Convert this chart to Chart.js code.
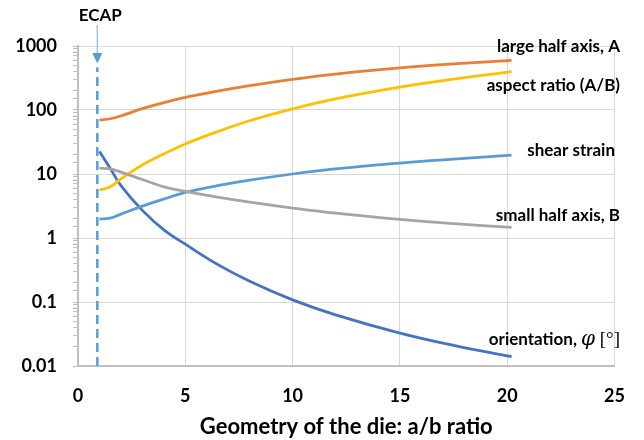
<!DOCTYPE html>
<html>
<head>
<meta charset="utf-8">
<script src="https://cdn.jsdelivr.net/npm/chart.js@4"></script>
<style>
  body { margin: 0; background: #fff; }
  #wrap { width: 644px; height: 440px; }
</style>
</head>
<body>
<div id="wrap"><canvas id="chart" width="644" height="440"></canvas></div>
<script>
// values (a/b ratio on x, log y)
const xValues = [1, 1.5, 2, 3, 4, 5, 6.5, 8, 10, 12, 15, 17.5, 20.2];
const largeHalfAxis = [70, 73, 81, 105, 130.6, 157, 197, 240, 302, 365, 455, 525, 594];
const aspectRatio = [5.6, 6.3, 8.4, 13.8, 20.6, 29.5, 46, 68, 104, 149, 227, 303, 398];
const shearStrain = [1.97, 2.04, 2.36, 3.15, 4.07, 5.15, 6.56, 8.0, 10, 12, 14.8, 17.1, 19.8];
const smallHalfAxis = [12.3, 12, 10.7, 8.2, 6.3, 5.35, 4.35, 3.63, 2.94, 2.44, 1.95, 1.67, 1.46];
const orientation = [22.4, 12.3, 6.6, 2.7, 1.34, 0.8, 0.387, 0.211, 0.108, 0.063, 0.0327, 0.021, 0.014];

const ecapX = [0.9, 0.9];
const ecapY = [0.01, 460];

const xTicks = [0, 5, 10, 15, 20, 25];
const yTickLabels = ['0.01', '0.1', '1', '10', '100', '1000'];

const FONT = 'Lato';

function pts(ys) {
    return xValues.map((x, i) => ({ x: x, y: ys[i] }));
}

function isDecade(v) {
    const l = Math.log10(v);
    return Math.abs(l - Math.round(l)) < 1e-6;
}

function line(data, color) {
    return {
        data: pts(data),
        borderColor: color,
        borderWidth: 2.75,
        pointRadius: 0,
        tension: 0.4,
        fill: false
    };
}

// right-hand series labels + ECAP arrow
const annotations = {
    id: 'annotations',
    afterDraw(chart) {
        const ctx = chart.ctx;
        const right = 620;
        ctx.save();
        ctx.fillStyle = '#000';
        ctx.textBaseline = 'alphabetic';
        ctx.textAlign = 'right';
        ctx.font = 'bold 17px ' + FONT;
        ctx.fillText('large half axis, A', right, 52);
        ctx.fillText('aspect ratio (A/B)', right, 91);
        ctx.fillText('shear strain', right - 5, 156);
        ctx.fillText('small half axis, B', right, 221);

        // orientation, φ [°] with math-style symbol
        ctx.textAlign = 'left';
        const p1 = 'orientation, ', p2 = 'φ', p3 = ' [°]';
        const f1 = 'bold 17px ' + FONT, f2 = 'italic 20px "DejaVu Serif"', f3 = '19px "Liberation Serif"';
        ctx.font = f1; const w1 = ctx.measureText(p1).width;
        ctx.font = f2; const w2 = ctx.measureText(p2).width;
        ctx.font = f3; const w3 = ctx.measureText(p3).width;
        let x = right - (w1 + w2 + w3);
        ctx.font = f1; ctx.fillText(p1, x, 345); x += w1;
        ctx.font = f2; ctx.fillText(p2, x, 345); x += w2;
        ctx.font = f3; ctx.fillText(p3, x, 345);

        // ECAP marker
        const ex = chart.scales.x.getPixelForValue(ecapX[0]);
        ctx.textAlign = 'center';
        ctx.font = 'bold 17px ' + FONT;
        ctx.fillText('ECAP', ex + 3, 21);
        ctx.strokeStyle = '#9DC3E6';
        ctx.lineWidth = 1.5;
        ctx.beginPath();
        ctx.moveTo(ex, 25);
        ctx.lineTo(ex, 54);
        ctx.stroke();
        ctx.fillStyle = '#5B9BD5';
        ctx.beginPath();
        ctx.moveTo(ex - 5, 53);
        ctx.lineTo(ex + 5, 53);
        ctx.lineTo(ex, 63.5);
        ctx.closePath();
        ctx.fill();
        ctx.restore();
    }
};

new Chart(document.getElementById('chart'), {
    type: 'line',
    data: {
        datasets: [
            {
                data: ecapX.map((x, i) => ({ x: x, y: ecapY[i] })),
                borderColor: '#5B9BD5',
                borderWidth: 2.5,
                borderDash: [9, 5],
                pointRadius: 0,
                tension: 0,
                fill: false
            },
            line(smallHalfAxis, '#A5A5A5'),
            line(shearStrain, '#5B9BD5'),
            line(aspectRatio, '#FFC000'),
            line(largeHalfAxis, '#ED7D31'),
            line(orientation, '#4472C4')
        ]
    },
    options: {
        responsive: false,
        animation: false,
        layout: { padding: { left: 0, right: 20, top: 46, bottom: 0 } },
        plugins: { legend: { display: false }, tooltip: { enabled: false } },
        scales: {
            x: {
                type: 'linear',
                min: 0,
                max: 25,
                afterBuildTicks: s => { s.ticks = xTicks.map(v => ({ value: v })); },
                afterFit: s => { s.height = 74; },
                grid: { color: '#d9d9d9', lineWidth: 1, drawTicks: false },
                border: { color: '#bfbfbf', width: 2 },
                ticks: { color: '#000', padding: 19, font: { family: FONT, size: 18, weight: 'bold' } },
                title: {
                    display: true,
                    text: 'Geometry of the die: a/b ratio',
                    color: '#000',
                    padding: { top: 2, bottom: 0 },
                    font: { family: FONT, size: 22, weight: 'bold' }
                }
            },
            y: {
                type: 'logarithmic',
                min: 0.01,
                max: 1000,
                afterFit: s => { s.width = 78; },
                grid: {
                    color: c => isDecade(c.tick.value) ? '#d9d9d9' : 'rgba(0,0,0,0)',
                    tickColor: '#bfbfbf',
                    tickLength: 5,
                    lineWidth: 1
                },
                border: { color: '#bfbfbf', width: 2 },
                ticks: {
                    autoSkip: false,
                    color: '#000',
                    padding: 16,
                    font: { family: FONT, size: 18, weight: 'bold' },
                    callback: v => isDecade(v) ? yTickLabels[Math.round(Math.log10(v)) + 2] : ''
                }
            }
        }
    },
    plugins: [annotations]
});
</script>
</body>
</html>
